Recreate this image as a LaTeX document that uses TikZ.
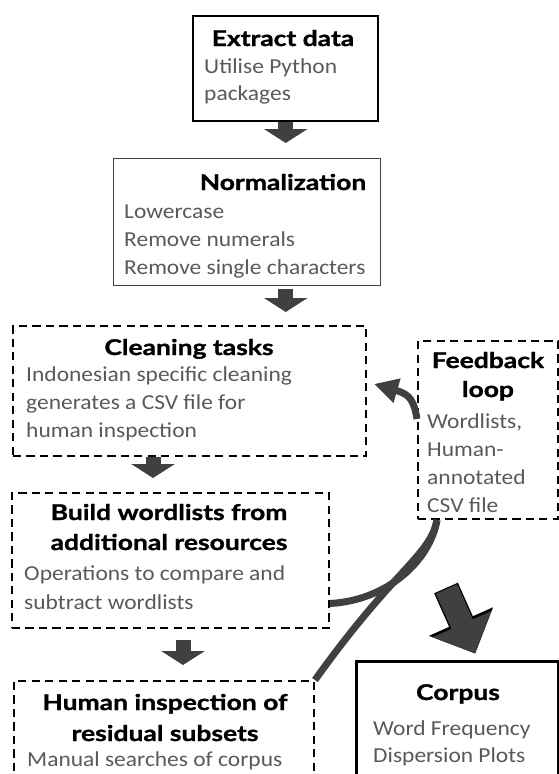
\documentclass[tikz,border=0pt]{standalone}
\usepackage{fontspec}
\setmainfont{Carlito}[FakeStretch=1.1]
\newfontfamily\headfont{Lato}[FakeStretch=1.22, BoldFeatures={FakeBold=1.2}]
\usetikzlibrary{arrows.meta,calc,positioning}
\definecolor{arrowgrey}{RGB}{64,64,64}
\definecolor{bodygrey}{RGB}{89,89,89}

\begin{document}
\begin{tikzpicture}[
    x=0.03cm, y=-0.03cm,
    solidbox/.style={draw, line width=2.1pt, anchor=north west, inner sep=0pt},
    thinbox/.style={draw=black!75, line width=0.9pt, anchor=north west, inner sep=0pt},
    dashbox/.style={draw, line width=1.7pt, dash pattern=on 7pt off 4.5pt, anchor=north west, inner sep=0pt},
    headtext/.style={anchor=base, inner sep=0pt, font=\headfont\bfseries\fontsize{18.5pt}{22pt}\selectfont},
    bodytext/.style={anchor=base west, inner sep=0pt, text=bodygrey, font=\fontsize{18.2pt}{24pt}\selectfont},
    stepto/.style={line width=0.45cm, draw=arrowgrey, -{Triangle[width=1.29cm,length=0.42cm]}},
    loopline/.style={line width=0.21cm, draw=arrowgrey}
]
\useasboundingbox (0,0) rectangle (559,774);
\clip (0,0) rectangle (559,774);

% boxes
\node[solidbox, minimum width=5.55cm, minimum height=3.15cm] (ext) at (192,15) {};
\node[thinbox, minimum width=8.01cm, minimum height=3.81cm] (norm) at (113,158) {};
\node[dashbox, minimum width=10.59cm, minimum height=3.9cm] (clean) at (12,325) {};
\node[dashbox, minimum width=9.51cm, minimum height=4.05cm] (build) at (11,492) {};
\node[dashbox, minimum width=9cm, minimum height=4.2cm] (human) at (13,680) {};
\node[dashbox, minimum width=4.2cm, minimum height=5.34cm] (fb) at (417,340) {};
\node[solidbox, line width=2.6pt, minimum width=6.06cm, minimum height=4.2cm] (corpus) at (355,660) {};

% headings
\node[headtext] (ext-t) at (283,46) {Extract data};
\node[headtext] (norm-t) at (283,190) {Normalization};
\node[headtext] (clean-t) at (189,355) {Cleaning tasks};
\node[headtext] (build-t1) at (169,520) {Build wordlists from};
\node[headtext] (build-t2) at (169,550) {additional resources};
\node[headtext] (human-t1) at (165,710) {Human inspection of};
\node[headtext] (human-t2) at (165,741) {residual subsets};
\node[headtext] (fb-t1) at (488,368) {Feedback};
\node[headtext] (fb-t2) at (488,397) {loop};
\node[headtext] (corpus-t) at (458,700) {Corpus};

% body lines
\foreach \t [count=\i] in {Utilise Python, packages}
    \node[bodytext] (ext-\i) at ({204},{73+27*(\i-1)}) {\t};
\foreach \t [count=\i] in {Lowercase, Remove numerals, Remove single characters}
    \node[bodytext] (norm-\i) at ({124},{218+28*(\i-1)}) {\t};
\foreach \t [count=\i] in {Indonesian specific cleaning, generates a CSV file for, human inspection}
    \node[bodytext] (clean-\i) at ({26},{381+28*(\i-1)}) {\t};
\foreach \t [count=\i] in {Operations to compare and, subtract wordlists}
    \node[bodytext] (build-\i) at ({24},{580+29*(\i-1)}) {\t};
\node[bodytext] (human-1) at (27,766) {Manual searches of corpus};
\foreach \t [count=\i] in {{Wordlists,}, Human-, annotated, CSV file}
    \node[bodytext] (fb-\i) at ({427},{428+28*(\i-1)}) {\t};
\foreach \t [count=\i] in {Word Frequency, Dispersion Plots}
    \node[bodytext] (corpus-\i) at ({373},{735+27*(\i-1)}) {\t};

% step arrows
\draw[stepto, shorten >=0.45cm] (ext.south) -- (ext.south |- norm.north);
\draw[stepto, shorten <=0.09cm, shorten >=0.39cm] (ext.south |- norm.south) -- (ext.south |- clean.north);
\draw[stepto, shorten >=0.42cm] ($(clean.south west)+(141,0)$) -- ($(build.north west)+(142,0)$);
\draw[stepto, shorten <=0.33cm, shorten >=0.45cm] ($(build.south west)+(172,0)$) -- ($(human.north west)+(170,0)$);

% feedback loop
\draw[loopline, -{Triangle[width=0.72cm,length=0.72cm]}] ($(fb.west)+(0,-11)$)
    .. controls +(-3,-18) and +(12,4) .. ($(clean.east)+(31,0)$) -- ($(clean.east)+(7,-7)$);
\draw[loopline] ($(fb.south west)+(20,0)$) .. controls +(-7,41) and +(57,-3) .. ($(build.east)+(0,43)$);
\draw[loopline] ($(fb.south west)+(20,0)$) .. controls +(-7,36) and +(80,-112) .. (human.north east);

% to corpus
\coordinate (bigtail) at ($(fb.south)+(-42,68)$);
\coordinate (bigtip) at ($(corpus.north west)+(120,-7)$);
\draw[line width=0.78cm, draw=black, -{Triangle[width=2.04cm,length=1.05cm]}, shorten >=-0.5pt] (bigtail) -- (bigtip);
\draw[line width=0.7cm, draw=arrowgrey, -{Triangle[width=1.88cm,length=0.95cm]}, shorten <=1pt] (bigtail) -- (bigtip);
\end{tikzpicture}
\end{document}
